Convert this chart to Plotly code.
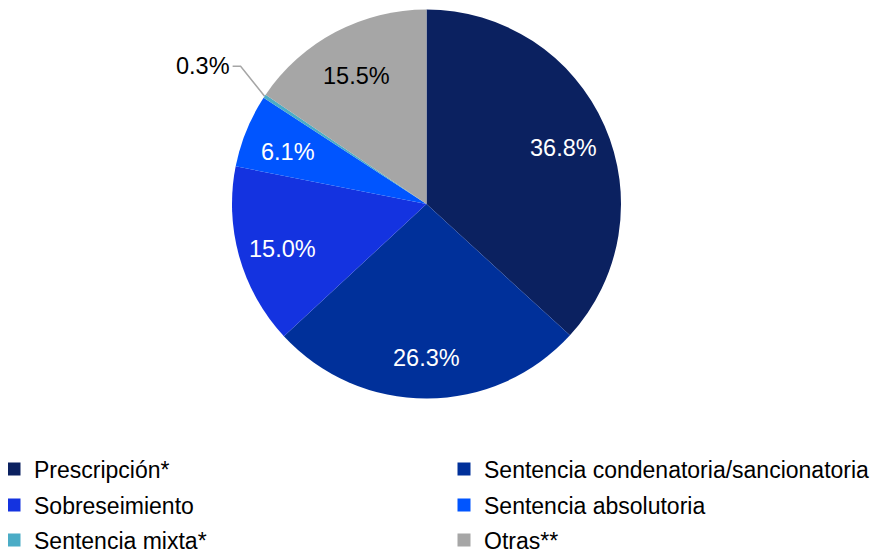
import math
import plotly.graph_objects as go

labels = ["Prescripción*", "Sentencia condenatoria/sancionatoria", "Sobreseimiento",
          "Sentencia absolutoria", "Sentencia mixta*", "Otras**"]
values = [36.8, 26.3, 15.0, 6.1, 0.3, 15.5]
colors = ["#0B2160", "#00309A", "#1433E0", "#0055FF", "#4BACC6", "#A6A6A6"]
text_colors = ["white", "white", "white", "white", "black", "black"]

W, H = 885, 552
OFF = 8  # page body margin in the browser
cx, cy, R = 426.5, 204, 194.5
FONT = "Liberation Sans, Arial"

texts = [f"{v:.1f}%" for v in values]
small = values.index(min(values))


def px(x, y):
    return (x - OFF) / W, 1 - (y - OFF) / H


x0, y1 = px(cx - R, cy + R)
x1, y0 = px(cx + R, cy - R)

fig = go.Figure()
fig.add_trace(go.Pie(
    labels=labels, values=values, sort=False, direction="clockwise", rotation=0,
    marker=dict(colors=colors, line=dict(width=0)),
    textinfo="none", hoverinfo="label+percent", showlegend=False,
    domain=dict(x=[x0, x1], y=[y1, y0]),
))

# slice labels placed along each slice's mid angle
total = sum(values)
cum = 0
for i, v in enumerate(values):
    theta = 2 * math.pi * (cum + v / 2) / total
    cum += v
    if i == small:
        ex, ey = cx + R * math.sin(theta), cy - R * math.cos(theta)
        p1 = (ex - 24, ey - 30)
        p2 = (p1[0] - 8, p1[1])
        fig.add_shape(type="path", xref="paper", yref="paper",
                      path="M {} {} L {} {} L {} {}".format(*px(ex, ey), *px(*p1), *px(*p2)),
                      line=dict(color="#A6A6A6", width=1.5))
        fig.add_annotation(x=px(*p2)[0], y=px(*p2)[1], xref="paper", yref="paper",
                           text=texts[i], showarrow=False, xanchor="right", yanchor="middle",
                           xshift=-1, font=dict(size=23.5, color="black", family=FONT))
        continue
    r = 0.77 * R
    lx, ly = cx + r * math.sin(theta), cy - r * math.cos(theta)
    fig.add_annotation(x=px(lx, ly)[0], y=px(lx, ly)[1], xref="paper", yref="paper",
                       text=texts[i], showarrow=False, xanchor="center", yanchor="middle",
                       yshift=-4, font=dict(size=23.5, color=text_colors[i], family=FONT))

# legend: one legend box per entry, two columns by three rows
row_y = [469, 505, 540]
col_x = [-6, 444]
legends = {}
for i, (lab, col) in enumerate(zip(labels, colors)):
    key = "legend" if i == 0 else f"legend{i + 1}"
    fig.add_trace(go.Scatter(x=[None], y=[None], mode="markers", name=lab, legend=key,
                             marker=dict(symbol="square", size=13, color=col)))
    lx, ly = px(col_x[i % 2], row_y[i // 2])
    legends[key] = dict(orientation="h", x=lx, y=ly,
                        xanchor="left", yanchor="middle", itemwidth=30,
                        font=dict(size=23, family=FONT, color="black"),
                        bgcolor="rgba(0,0,0,0)")

fig.update_layout(
    width=W, height=H, margin=dict(l=0, r=0, t=0, b=0, autoexpand=False),
    paper_bgcolor="white", plot_bgcolor="white",
    font=dict(family=FONT, size=20, color="black"),
    xaxis=dict(visible=False), yaxis=dict(visible=False),
    **legends,
)
fig.write_html("out.html")
